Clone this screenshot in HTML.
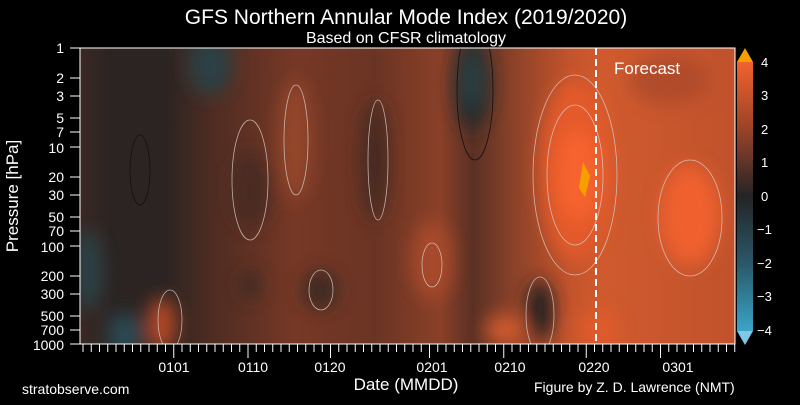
<!DOCTYPE html>
<html><head><meta charset="utf-8"><style>
body{margin:0;background:#000;width:800px;height:400px;overflow:hidden;font-family:"Liberation Sans",sans-serif}
</style></head><body>
<svg width="800" height="400" xmlns="http://www.w3.org/2000/svg" font-family="Liberation Sans, sans-serif">
<defs>
<linearGradient id="bg" x1="0" x2="1" y1="0" y2="0">
<stop offset="0" stop-color="#3a2824"/>
<stop offset="0.05" stop-color="#2b2422"/>
<stop offset="0.13" stop-color="#2b2422"/>
<stop offset="0.2" stop-color="#4e2c22"/>
<stop offset="0.33" stop-color="#773826"/>
<stop offset="0.45" stop-color="#6a3424"/>
<stop offset="0.55" stop-color="#8a4028"/>
<stop offset="0.6" stop-color="#5a3024"/>
<stop offset="0.66" stop-color="#8a4229"/>
<stop offset="0.75" stop-color="#c4542c"/>
<stop offset="0.8" stop-color="#d05a2e"/>
<stop offset="1" stop-color="#c0522c"/>
</linearGradient>
<linearGradient id="cb" x1="0" x2="0" y1="0" y2="1">
<stop offset="0" stop-color="#f2622e"/>
<stop offset="0.25" stop-color="#9a4328"/>
<stop offset="0.5" stop-color="#242426"/>
<stop offset="0.75" stop-color="#2a5868"/>
<stop offset="1" stop-color="#3aa4c8"/>
</linearGradient>
<filter id="bl" x="-50%" y="-50%" width="200%" height="200%"><feGaussianBlur stdDeviation="9"/></filter>
<clipPath id="cp"><rect x="80" y="48" width="655" height="296"/></clipPath>
</defs>
<text x="406" y="24" font-size="21" fill="#fff" text-anchor="middle">GFS Northern Annular Mode Index (2019/2020)</text>
<text x="406" y="43" font-size="16" fill="#fff" text-anchor="middle">Based on CFSR climatology</text>
<g clip-path="url(#cp)">
<rect x="80" y="48" width="655" height="296" fill="url(#bg)"/>
<g filter="url(#bl)">
<ellipse cx="210" cy="65" rx="22" ry="30" fill="#2c4044"/>
<ellipse cx="472" cy="85" rx="18" ry="45" fill="#222a2a"/>
<ellipse cx="472" cy="80" rx="8" ry="30" fill="#2c4448"/>
<ellipse cx="88" cy="270" rx="14" ry="40" fill="#2c4246"/>
<ellipse cx="125" cy="335" rx="18" ry="22" fill="#2c4a52"/>
<ellipse cx="162" cy="325" rx="14" ry="28" fill="#b84a28"/>
<ellipse cx="295" cy="140" rx="16" ry="60" fill="#944629"/>
<ellipse cx="250" cy="190" rx="20" ry="40" fill="#4a2c24"/>
<ellipse cx="375" cy="160" rx="15" ry="60" fill="#4a2c24"/>
<ellipse cx="432" cy="260" rx="20" ry="40" fill="#a84a2a"/>
<ellipse cx="320" cy="290" rx="18" ry="20" fill="#3e2a24"/>
<ellipse cx="250" cy="285" rx="10" ry="16" fill="#3e2a24"/>
<ellipse cx="540" cy="310" rx="14" ry="30" fill="#262422"/>
<ellipse cx="575" cy="170" rx="35" ry="90" fill="#e45a2c"/>
<ellipse cx="578" cy="175" rx="20" ry="45" fill="#f8642e"/>
<ellipse cx="690" cy="215" rx="30" ry="50" fill="#f0602e"/>
<ellipse cx="670" cy="80" rx="40" ry="25" fill="#b04c2a"/>
<ellipse cx="598" cy="330" rx="20" ry="20" fill="#e05a2c"/>
<ellipse cx="505" cy="330" rx="20" ry="15" fill="#d05a2e"/>
</g>
<path d="M583 162 L590 176 L585 197 L579 188 Z" fill="#f6a000"/>
<g fill="none" stroke="#d8d0cc" stroke-width="0.8" opacity="0.8">
<ellipse cx="575" cy="175" rx="28" ry="70"/>
<ellipse cx="575" cy="175" rx="42" ry="100"/>
<ellipse cx="690" cy="218" rx="32" ry="58"/>
<ellipse cx="296" cy="140" rx="12" ry="55"/>
<ellipse cx="432" cy="265" rx="10" ry="22"/>
<ellipse cx="321" cy="290" rx="12" ry="20"/>
<ellipse cx="170" cy="320" rx="12" ry="30"/>
<ellipse cx="250" cy="180" rx="18" ry="60"/>
<ellipse cx="378" cy="160" rx="10" ry="60"/>
<ellipse cx="540" cy="315" rx="14" ry="38"/>
</g>
<g fill="none" stroke="#111" stroke-width="0.8">
<ellipse cx="475" cy="90" rx="18" ry="70"/>
<ellipse cx="140" cy="170" rx="10" ry="35"/>
</g>
<line x1="596" y1="48" x2="596" y2="344" stroke="#fff" stroke-width="2" stroke-dasharray="7,4"/>
</g>
<text x="614" y="74" font-size="17" fill="#fff">Forecast</text>
<rect x="80" y="48" width="655" height="296" fill="none" stroke="#fff" stroke-width="1"/>
<g fill="#fff" font-size="14" text-anchor="end">
<text x="64" y="53">1</text><text x="64" y="83">2</text><text x="64" y="101">3</text>
<text x="64" y="123">5</text><text x="64" y="137">7</text><text x="64" y="153">10</text>
<text x="64" y="182">20</text><text x="64" y="200">30</text><text x="64" y="222">50</text>
<text x="64" y="236">70</text><text x="64" y="252">100</text><text x="64" y="281">200</text>
<text x="64" y="299">300</text><text x="64" y="321">500</text><text x="64" y="335">700</text>
<text x="64" y="350">1000</text>
</g>
<g stroke="#fff" stroke-width="1">
<line x1="70" y1="48" x2="80" y2="48"/><line x1="70" y1="78" x2="80" y2="78"/><line x1="70" y1="96" x2="80" y2="96"/>
<line x1="70" y1="118" x2="80" y2="118"/><line x1="70" y1="132" x2="80" y2="132"/><line x1="70" y1="147" x2="80" y2="147"/>
<line x1="70" y1="177" x2="80" y2="177"/><line x1="70" y1="195" x2="80" y2="195"/><line x1="70" y1="217" x2="80" y2="217"/>
<line x1="70" y1="231" x2="80" y2="231"/><line x1="70" y1="246" x2="80" y2="246"/><line x1="70" y1="276" x2="80" y2="276"/>
<line x1="70" y1="294" x2="80" y2="294"/><line x1="70" y1="316" x2="80" y2="316"/><line x1="70" y1="330" x2="80" y2="330"/>
<line x1="70" y1="344" x2="80" y2="344"/>
</g>
<path id="xt" stroke="#fff" stroke-width="1" d="" />
<g stroke="#fff" stroke-width="1">
<script></script>
</g>
<g stroke="#fff" stroke-width="1" id="ticks"></g>
<text transform="translate(18,196) rotate(-90)" font-size="17" fill="#fff" text-anchor="middle">Pressure [hPa]</text>
<g fill="#fff" font-size="14" text-anchor="middle">
<text x="174" y="372">0101</text><text x="253" y="372">0110</text><text x="330" y="372">0120</text>
<text x="432" y="372">0201</text><text x="510" y="372">0210</text><text x="594" y="372">0220</text><text x="678" y="372">0301</text>
</g>
<text x="406" y="390" font-size="17" fill="#fff" text-anchor="middle">Date (MMDD)</text>
<text x="22" y="394" font-size="14" fill="#fff">stratobserve.com</text>
<text x="534" y="392" font-size="14" fill="#fff">Figure by Z. D. Lawrence (NMT)</text>
<path d="M737 62 L745 48 L753 62 Z" fill="#f5a000"/>
<path d="M737 331 L745 345 L753 331 Z" fill="#80c8e8"/>
<rect x="737" y="62" width="16" height="269" fill="url(#cb)"/>
<g fill="#fff" font-size="13">
<text x="761" y="67">4</text><text x="761" y="100">3</text><text x="761" y="134">2</text>
<text x="761" y="167">1</text><text x="761" y="201">0</text><text x="757" y="234">−1</text>
<text x="757" y="268">−2</text><text x="757" y="301">−3</text><text x="757" y="335">−4</text>
</g>
</svg>
<script>
var g=document.getElementById('ticks');var s='';
for(var i=0;i<80;i++){var x=83+i*8.25;var big=[11,20,30,42,51,61,70].indexOf(i)>=0;
s+='<line x1="'+x+'" y1="344" x2="'+x+'" y2="'+(big?358:352)+'"/>';}
g.innerHTML=s;
</script>
</body></html>
